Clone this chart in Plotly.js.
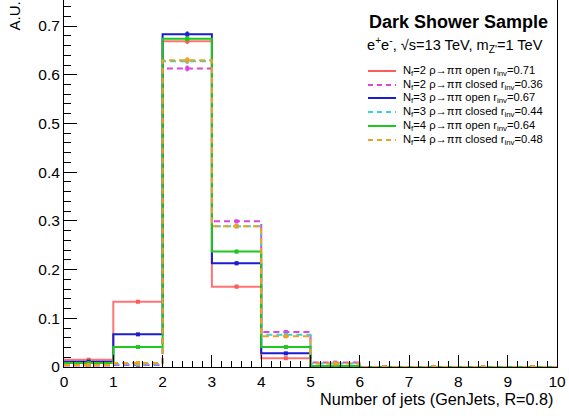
<!DOCTYPE html>
<html>
<head>
<meta charset="utf-8">
<script src="https://cdn.plot.ly/plotly-3.0.1.min.js"></script>
<style>html,body{margin:0;padding:0;background:#fff;}#chart{width:569px;height:420px;}</style>
</head>
<body>
<div id="chart"></div>
<script>
// Bin edges (number of jets), 10 bins from 0 to 10
const binEdges = [0,1,2,3,4,5,6,7,8,9,10];
const binCenters = [0.5,1.5,2.5,3.5,4.5,5.5,6.5,7.5,8.5,9.5];

// Normalised distributions (A.U.)
const nf2Open   = [0.015,0.134,0.669,0.165,0.018,0.001,0,0,0,0];
const nf2Closed = [0.003,0.004,0.613,0.299,0.072,0.009,0,0,0,0];
const nf3Open   = [0.011,0.067,0.683,0.213,0.028,0.002,0,0,0,0];
const nf3Closed = [0.004,0.006,0.628,0.289,0.066,0.007,0,0,0,0];
const nf4Open   = [0.008,0.041,0.674,0.237,0.041,0.002,0,0,0,0];
const nf4Closed = [0.004,0.008,0.630,0.289,0.063,0.007,0,0,0,0];
const binErrors = [0.002,0.003,0.006,0.004,0.002,0.001,0,0,0,0];

const seriesNames = [
  "N<sub>f</sub>=2 ρ→ππ open r<sub>inv</sub>=0.71",
  "N<sub>f</sub>=2 ρ→ππ closed r<sub>inv</sub>=0.36",
  "N<sub>f</sub>=3 ρ→ππ open r<sub>inv</sub>=0.67",
  "N<sub>f</sub>=3 ρ→ππ closed r<sub>inv</sub>=0.44",
  "N<sub>f</sub>=4 ρ→ππ open r<sub>inv</sub>=0.64",
  "N<sub>f</sub>=4 ρ→ππ closed r<sub>inv</sub>=0.48"
];
const seriesValues = [nf2Open, nf2Closed, nf3Open, nf3Closed, nf4Open, nf4Closed];
const seriesColors = ["#ff5a5a","#dd44dd","#1c1cd0","#33d6d6","#1ec81e","#f0a020"];
const seriesDash = ["solid","6px,4px","solid","6px,4px","solid","6px,4px"];

const traces = [];
seriesValues.forEach((vals, i) => {
  traces.push({
    type: 'scatter', mode: 'lines',
    x: binEdges, y: vals.concat([vals[vals.length-1]]),
    line: {shape: 'hv', color: seriesColors[i], width: 2, dash: seriesDash[i]},
    opacity: i === 0 ? 0.85 : 1,
    hoverinfo: 'skip', showlegend: false
  });
  traces.push({
    type: 'scatter', mode: 'markers',
    x: binCenters, y: vals,
    marker: {size: 4, color: seriesColors[i], symbol: 'square'},
    error_y: {type: 'data', array: binErrors, color: seriesColors[i], thickness: 2, width: 0},
    hoverinfo: 'skip', showlegend: false
  });
});

// Plot-area geometry helpers (paper coords)
const L = 64, R = 12, T = 0, B = 53, W = 569, H = 420;
const pw = W - L - R, ph = H - T - B;
const px = v => (v - L) / pw;
const py = v => (H - B - v) / ph;

const FONT = 'Liberation Sans, Arial, sans-serif';
const shapes = [];
const annotations = [];
const legendY = [71, 85, 98, 112, 126, 140];
seriesNames.forEach((name, i) => {
  shapes.push({type: 'line', xref: 'paper', yref: 'paper',
    x0: px(368), x1: px(396), y0: py(legendY[i]), y1: py(legendY[i]),
    line: {color: seriesColors[i], width: 2, dash: seriesDash[i] === 'solid' ? 'solid' : '5px,4px'}});
  annotations.push({xref: 'paper', yref: 'paper', x: px(401), y: py(legendY[i]),
    xanchor: 'left', yanchor: 'middle', showarrow: false, text: name,
    font: {family: FONT, size: 11.2, color: '#000'}});
});
annotations.push({xref: 'paper', yref: 'paper', x: px(458), y: py(22), xanchor: 'center', yanchor: 'middle',
  showarrow: false, text: '<b>Dark Shower Sample</b>',
  font: {family: FONT, size: 18, color: '#000'}});
annotations.push({xref: 'paper', yref: 'paper', x: px(365), y: py(45), xanchor: 'left', yanchor: 'middle',
  showarrow: false, text: 'e<sup>+</sup>e<sup>-</sup>, √s=13 TeV, m<sub>Z\'</sub>=1 TeV',
  font: {family: FONT, size: 14.6, color: '#000'}});
annotations.push({xref: 'paper', yref: 'paper', x: px(14), y: 1, xanchor: 'center', yanchor: 'top',
  textangle: -90, showarrow: false, text: 'A.U.',
  font: {family: FONT, size: 15, color: '#000'}});
annotations.push({xref: 'paper', yref: 'paper', x: px(555), y: py(399), xanchor: 'right', yanchor: 'middle',
  showarrow: false, text: 'Number of jets (GenJets, R=0.8)',
  font: {family: FONT, size: 16.2, color: '#000'}});

const layout = {
  width: W, height: H,
  margin: {l: L, r: R, t: T, b: B, pad: 0},
  paper_bgcolor: '#fff', plot_bgcolor: '#fff',
  showlegend: false,
  font: {family: FONT, size: 16, color: '#000'},
  xaxis: {
    range: [0, 10], tickmode: 'array', tickvals: binEdges, ticktext: binEdges.map(String),
    ticks: 'inside', ticklen: 12, tickwidth: 1, tickcolor: '#000',
    minor: {dtick: 0.2, tick0: 0, ticks: 'inside', ticklen: 6, tickcolor: '#000', showgrid: false},
    showline: true, linecolor: '#000', linewidth: 1, mirror: true,
    showgrid: false, zeroline: false, fixedrange: true,
    tickfont: {size: 15.5}
  },
  yaxis: {
    range: [0, 0.7535], tickmode: 'array', tickvals: [0,0.1,0.2,0.3,0.4,0.5,0.6,0.7],
    ticktext: ['0','0.1','0.2','0.3','0.4','0.5','0.6','0.7'],
    ticks: 'inside', ticklen: 13, tickwidth: 1, tickcolor: '#000',
    minor: {dtick: 0.02, tick0: 0, ticks: 'inside', ticklen: 7, tickcolor: '#000', showgrid: false},
    showline: true, linecolor: '#000', linewidth: 1, mirror: true,
    showgrid: false, zeroline: false, fixedrange: true,
    tickfont: {size: 15.5}
  },
  shapes: shapes,
  annotations: annotations
};

Plotly.newPlot('chart', traces, layout, {staticPlot: true, displayModeBar: false});
</script>
</body>
</html>
